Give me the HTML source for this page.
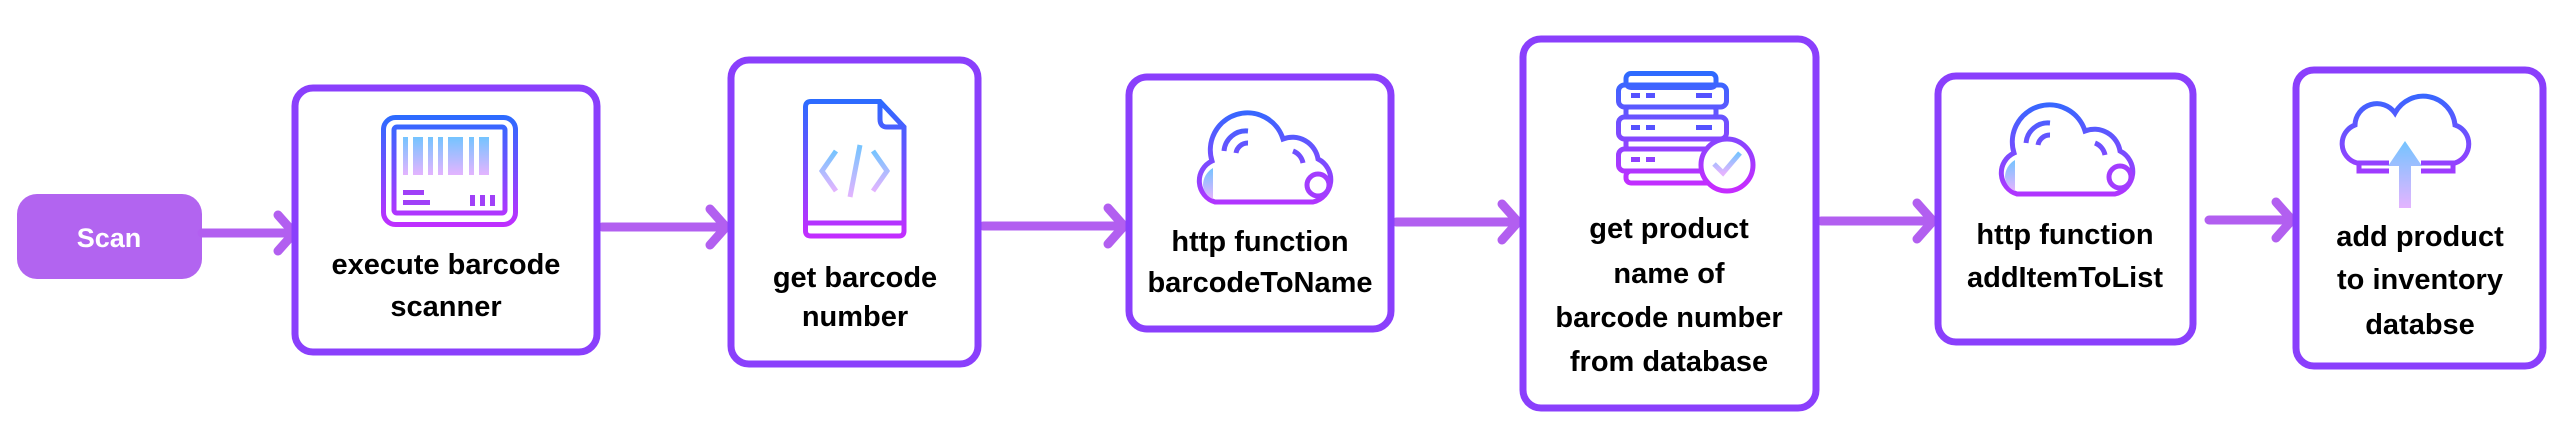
<!DOCTYPE html>
<html><head><meta charset="utf-8"><style>
html,body{margin:0;padding:0;background:#fff;width:2572px;height:436px;overflow:hidden}
svg{display:block}
text{font-family:"Liberation Sans",sans-serif;font-weight:bold;font-size:29px;fill:#000;text-anchor:middle}
</style></head><body>
<svg width="2572" height="436" viewBox="0 0 2572 436" xmlns="http://www.w3.org/2000/svg">
<defs>
<linearGradient id="g" gradientUnits="userSpaceOnUse" x1="0" y1="0" x2="0" y2="115">
<stop offset="0" stop-color="#2a6cff"/><stop offset="1" stop-color="#c52cff"/></linearGradient>
<linearGradient id="gd" gradientUnits="userSpaceOnUse" x1="0" y1="0" x2="0" y2="140">
<stop offset="0" stop-color="#2a6cff"/><stop offset="1" stop-color="#c52cff"/></linearGradient>
<linearGradient id="lt" x1="0" y1="0" x2="0" y2="1">
<stop offset="0" stop-color="#74c4ff"/><stop offset="1" stop-color="#e4b4ff"/></linearGradient>
</defs>

<!-- Scan -->
<rect x="17" y="194" width="185" height="85" rx="20" fill="#b264f0"/>
<text x="109" y="247" style="fill:#fff;font-size:27px">Scan</text>

<!-- arrows -->
<g stroke="#b25ff0" stroke-width="9" fill="none" stroke-linecap="round" stroke-linejoin="round">
<path d="M202,233 H292 M278,215 L294,233 L278,251"/>
<path d="M602,227 H724 M710,209 L726,227 L710,245"/>
<path d="M983,226 H1122 M1108,208 L1124,226 L1108,244"/>
<path d="M1396,222 H1516 M1502,204 L1518,222 L1502,240"/>
<path d="M1821,221 H1931 M1917,203 L1933,221 L1917,239"/>
<path d="M2209,220 H2290 M2276,202 L2292,220 L2276,238"/>
</g>

<!-- boxes -->
<g fill="#fff" stroke="#8a3ffc" stroke-width="7">
<rect x="295" y="88" width="302" height="264" rx="18"/>
<rect x="731" y="60" width="247" height="304" rx="18"/>
<rect x="1129" y="77" width="262" height="252" rx="18"/>
<rect x="1523" y="39" width="293" height="369" rx="18"/>
<rect x="1938" y="76" width="255" height="266" rx="18"/>
<rect x="2296" y="70" width="247" height="296" rx="18"/>
</g>

<!-- text -->
<text x="446" y="274">execute barcode</text>
<text x="446" y="316">scanner</text>
<text x="855" y="287">get barcode</text>
<text x="855" y="326">number</text>
<text x="1260" y="251">http function</text>
<text x="1260" y="292">barcodeToName</text>
<text x="1669" y="238">get product</text>
<text x="1669" y="283">name of</text>
<text x="1669" y="327">barcode number</text>
<text x="1669" y="371">from database</text>
<text x="2065" y="244">http function</text>
<text x="2065" y="287">addItemToList</text>
<text x="2420" y="246">add product</text>
<text x="2420" y="289">to inventory</text>
<text x="2420" y="334">databse</text>

<!-- scanner icon -->
<g transform="translate(381,115)">
<rect x="2.5" y="2.5" width="132" height="107" rx="12" fill="none" stroke="url(#g)" stroke-width="5"/>
<rect x="13" y="12" width="111" height="86" rx="3" fill="none" stroke="url(#g)" stroke-width="5"/>
<g fill="url(#lt)">
<rect x="22" y="22" width="5" height="38"/><rect x="32" y="22" width="10" height="38"/><rect x="47" y="22" width="5" height="38"/><rect x="57" y="22" width="5" height="38"/><rect x="67" y="22" width="15" height="38"/><rect x="88" y="22" width="5" height="38"/><rect x="98" y="22" width="10" height="38"/>
</g>
<g fill="#a040f8"><rect x="22" y="75" width="21" height="5"/><rect x="22" y="85" width="27" height="5"/><rect x="89" y="80" width="5" height="11"/><rect x="99" y="80" width="5" height="11"/><rect x="109" y="80" width="5" height="11"/></g>
</g>

<!-- doc icon -->
<g transform="translate(803,99)">
<path d="M2.5,8 Q2.5,2.5 8,2.5 H77 L101,28 V132 Q101,137 96,137 H8 Q2.5,137 2.5,132 Z" fill="none" stroke="url(#gd)" stroke-width="5"/>
<path d="M77,2.5 V20 Q77,28 84,28 H101" fill="none" stroke="url(#gd)" stroke-width="5"/>
<path d="M3,124 H101" stroke="url(#gd)" stroke-width="5"/>
<g fill="none" stroke="url(#lt)" stroke-width="5"><path d="M33,52 L19,72 L33,92"/><path d="M70,52 L84,72 L70,92"/><path d="M57,46 L47,98"/></g>
</g>

<!-- cloud icon -->
<g id="cl" transform="translate(1188,103)">
<path d="M27,99 H125 A23,23 0 0 0 130,56 A26,26 0 0 0 95,36 A37,37 0 0 0 24,58 A22,22 0 0 0 27,99 Z" fill="none" stroke="url(#g)" stroke-width="5"/>
<path d="M15,82 A20,20 0 0 1 25,65 V96 A16,16 0 0 1 15,82 Z" fill="url(#lt)"/>
<circle cx="130" cy="82" r="11" fill="#fff" stroke="#a33cff" stroke-width="5"/>
<g fill="none" stroke="url(#g)" stroke-width="5"><path d="M60,28 A22,22 0 0 0 36,48"/><path d="M60,40 A12,12 0 0 0 48,50"/><path d="M105,48 A16,16 0 0 1 115,60"/></g>
</g>
<use href="#cl" transform="translate(802,-8)"/>

<!-- db icon -->
<g transform="translate(1616,71)" fill="none" stroke="url(#g)" stroke-width="5">
<rect x="10" y="2.5" width="90" height="14" rx="5"/>
<rect x="2.5" y="14" width="108" height="22" rx="6"/>
<rect x="10" y="36" width="90" height="10" rx="3"/>
<rect x="2.5" y="46" width="108" height="22" rx="6"/>
<rect x="10" y="68" width="90" height="10" rx="3"/>
<rect x="2.5" y="78" width="108" height="22" rx="6"/>
<rect x="10" y="100" width="90" height="12" rx="5"/>
<g stroke="none" fill="#5552ff"><rect x="15" y="22" width="9" height="5"/><rect x="30" y="22" width="9" height="5"/><rect x="80" y="22" width="16" height="5"/><rect x="15" y="54" width="9" height="5"/><rect x="30" y="54" width="9" height="5"/><rect x="80" y="54" width="16" height="5"/><rect x="15" y="86" width="9" height="5" fill="#9040ff"/><rect x="30" y="86" width="9" height="5" fill="#9040ff"/></g>
<circle cx="111" cy="94" r="26" fill="#fff"/>
<path d="M98,93 L107,102 L124,82" stroke="url(#lt)"/>
</g>

<!-- cloud upload icon -->
<g transform="translate(2337,85)">
<path d="M52,78 H20 A20,20 0 0 1 18,40 A22,22 0 0 1 58,28 A32,32 0 0 1 118,40 A20,20 0 0 1 118,78 H84" fill="none" stroke="url(#g)" stroke-width="5"/>
<path d="M22,78 V86 H52 M84,86 H116 V78" fill="none" stroke="url(#g)" stroke-width="5"/>
<path d="M68,56 L51,81 H62 V123 H74 V81 H85 Z" fill="url(#lt)"/>
</g>
</svg>
</body></html>
